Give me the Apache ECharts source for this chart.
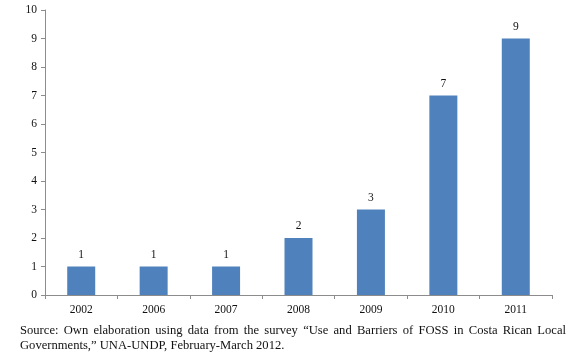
<!DOCTYPE html>
<html>
<head>
<meta charset="utf-8">
<script src="https://cdn.jsdelivr.net/npm/echarts@6/dist/echarts.min.js"></script>
<style>
  html, body { margin: 0; padding: 0; background: #fff; }
  #wrap { position: relative; width: 580px; height: 354px; }
  #chart { width: 580px; height: 354px; }
  #note {
    position: absolute; left: 20px; top: 323px; width: 546px;
    font-family: "Liberation Serif", "DejaVu Serif", serif;
    font-size: 12.6px; line-height: 15px; color: #111;
    text-align: justify;
  }
</style>
</head>
<body>
<div id="wrap">
  <div id="chart"></div>
  <div id="note">Source: Own elaboration using data from the survey “Use and Barriers of FOSS in Costa Rican Local Governments,” UNA-UNDP, February-March 2012.</div>
</div>
<script>
// 数据
var years = ['2002', '2006', '2007', '2008', '2009', '2010', '2011'];
var counts = [1, 1, 1, 2, 3, 7, 9];

(function() {
    var myechart = echarts.init(document.getElementById('chart'));
    var serif = '"Liberation Serif", "DejaVu Serif", serif';
    var option = {
        animation: false,
        grid: {
            left: 45,
            right: 28,
            top: 10,
            bottom: 59
        },
        xAxis: {
            type: 'category',
            data: years,
            axisLine: { lineStyle: { color: '#8c8c8c' } },
            axisTick: { show: true, length: 4, lineStyle: { color: '#8c8c8c' } },
            axisLabel: { color: '#111', fontFamily: serif, fontSize: 11.5, margin: 9 }
        },
        yAxis: {
            type: 'value',
            min: 0,
            max: 10,
            interval: 1,
            splitLine: { show: false },
            axisLine: { show: true, lineStyle: { color: '#8c8c8c' } },
            axisTick: { show: true, length: 4, lineStyle: { color: '#8c8c8c' } },
            axisLabel: { color: '#111', fontFamily: serif, fontSize: 11.5, margin: 8 }
        },
        series: [{
            type: 'bar',
            data: counts,
            barWidth: 28,
            itemStyle: { color: '#4f81bd' },
            label: {
                show: true,
                position: 'top',
                distance: 6,
                color: '#111',
                fontFamily: serif,
                fontSize: 11.5
            }
        }]
    };
    myechart.setOption(option);
})();
</script>
</body>
</html>
